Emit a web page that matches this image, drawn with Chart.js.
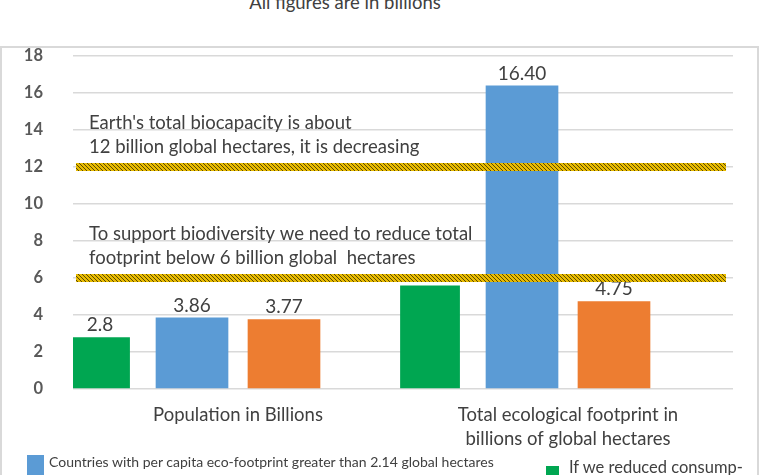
<!DOCTYPE html>
<html>
<head>
<meta charset="utf-8">
<script src="https://cdn.jsdelivr.net/npm/chart.js@4.4.0/dist/chart.umd.min.js"></script>
<style>
  body { margin: 0; background: #fff; font-family: Lato, sans-serif; }
  #wrap { position: relative; width: 760px; height: 475px; overflow: hidden; }
  #frame { position: absolute; left: 0; top: 46px; width: 755px; height: 450px; border: 2px solid #d9d9d9; }
  #title { position: absolute; left: 0; top: -9px; width: 690px; text-align: center; font-size: 18.5px; color: #404040; }
  canvas { position: absolute; left: 0; top: 0; }
  .leg { position: absolute; color: #404040; white-space: nowrap; }
  .sw { position: absolute; }
</style>
</head>
<body>
<div id="wrap">
  <div id="frame"></div>
  <div id="title">All figures are in billions</div>
  <canvas id="chart" width="760" height="475"></canvas>
  <div class="sw" style="left:27px;top:455px;width:17px;height:20px;background:#5b9bd5"></div>
  <div class="leg" style="left:49px;top:453px;font-size:14px">Countries with per capita eco-footprint greater than 2.14 global hectares</div>
  <div class="sw" style="left:546px;top:466px;width:13px;height:12px;background:#00a651"></div>
  <div class="leg" style="left:569px;top:457px;font-size:16.5px">If we reduced consump-</div>
</div>
<script>
// categories and series
const categories = [['Population in Billions'], ['Total ecological footprint in', 'billions of global hectares']];
const greenValues = [2.8, 5.6];
const blueValues = [3.86, 16.40];
const orangeValues = [3.77, 4.75];
const greenLabels = ['2.8', null];
const blueLabels = ['3.86', '16.40'];
const orangeLabels = ['3.77', '4.75'];

// limit lines and their notes
const limitValues = [12, 6];
const limitNotes = [
  ["Earth's total biocapacity is about", '12 billion global hectares, it is decreasing'],
  ['To support biodiversity we need to reduce total', 'footprint below 6 billion global  hectares']
];

const yTicks = { min: 0, max: 18, step: 2 };

function hatchPattern(ctx) {
  const c = document.createElement('canvas');
  c.width = 4; c.height = 4;
  const p = c.getContext('2d');
  p.fillStyle = '#e8bb00';
  p.fillRect(0, 0, 4, 4);
  p.strokeStyle = '#4a3c00';
  p.lineWidth = 0.9;
  p.beginPath();
  p.moveTo(-1, -1); p.lineTo(5, 5);
  p.moveTo(-1, 3); p.lineTo(1, 5);
  p.moveTo(3, -1); p.lineTo(5, 1);
  p.stroke();
  return ctx.createPattern(c, 'repeat');
}

const barLabels = {
  id: 'barLabels',
  afterDatasetsDraw(chart) {
    const ctx = chart.ctx;
    const sets = [greenLabels, blueLabels, orangeLabels];
    ctx.save();
    ctx.font = '19px Lato';
    ctx.fillStyle = '#404040';
    ctx.textAlign = 'center';
    ctx.textBaseline = 'alphabetic';
    sets.forEach((labels, di) => {
      chart.getDatasetMeta(di).data.forEach((bar, i) => {
        if (labels[i] == null) return;
        ctx.fillText(labels[i], bar.x, bar.y - 6);
      });
    });
    ctx.restore();
  }
};

const limitBands = {
  id: 'limitBands',
  afterDatasetsDraw(chart) {
    const ctx = chart.ctx;
    const y = chart.scales.y;
    const area = chart.chartArea;
    const pat = hatchPattern(ctx);
    ctx.save();
    limitValues.forEach((v, k) => {
      const py = y.getPixelForValue(v);
      ctx.fillStyle = pat;
      ctx.fillRect(area.left + 3, py - 4, area.right - area.left - 10, 8);
      ctx.font = '18.5px Lato';
      ctx.fillStyle = '#404040';
      ctx.textAlign = 'left';
      ctx.textBaseline = 'alphabetic';
      const lines = limitNotes[k];
      lines.forEach((t, j) => {
        ctx.fillText(t, area.left + 16, py - 14 - (lines.length - 1 - j) * 24);
      });
    });
    ctx.restore();
  }
};

new Chart(document.getElementById('chart'), {
  type: 'bar',
  data: {
    labels: categories,
    datasets: [
      { label: 'If we reduced consump-', data: greenValues, backgroundColor: '#00a651', barPercentage: 0.65 },
      { label: 'Countries with per capita eco-footprint greater than 2.14 global hectares', data: blueValues, backgroundColor: '#5b9bd5', barPercentage: 0.79 },
      { label: 'Other countries', data: orangeValues, backgroundColor: '#ed7d31', barPercentage: 0.79 },
      { label: '', data: [null, null], backgroundColor: 'rgba(0,0,0,0)', barPercentage: 0.79 }
    ]
  },
  options: {
    responsive: false,
    animation: false,
    categoryPercentage: 1.115,
    layout: { padding: { top: 56, right: 27, bottom: 0, left: 0 } },
    plugins: { legend: { display: false }, tooltip: { enabled: false }, title: { display: false } },
    scales: {
      x: {
        grid: { display: false },
        border: { display: false },
        ticks: { color: '#404040', font: { family: 'Lato', size: 18.5, lineHeight: 1.3 }, padding: 6, maxRotation: 0 },
        afterFit(scale) { scale.height = 86; }
      },
      y: {
        min: yTicks.min,
        max: yTicks.max,
        grid: { color: '#d9d9d9', lineWidth: 1.5, drawTicks: false },
        border: { display: false },
        ticks: { stepSize: yTicks.step, color: '#595959', font: { family: 'Lato', size: 16.5, weight: 'bold' }, padding: 30 },
        afterFit(scale) { scale.width = 73; }
      }
    }
  },
  plugins: [barLabels, limitBands]
});
</script>
</body>
</html>
